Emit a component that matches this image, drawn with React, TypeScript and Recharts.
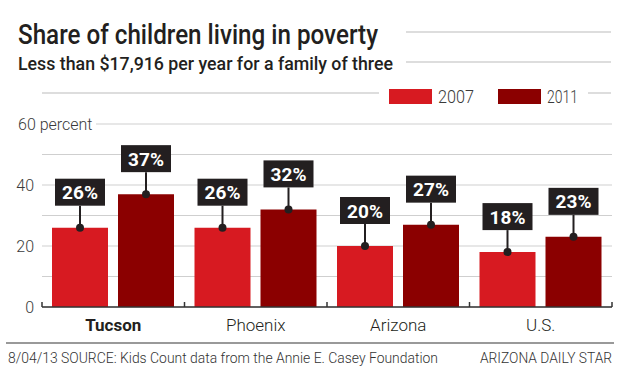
import React from 'react'
import { BarChart, Bar, XAxis, YAxis, CartesianGrid, LabelList } from 'recharts'

const categories = ['Tucson', 'Phoenix', 'Arizona', 'U.S.']
const share2007 = [26, 26, 20, 18]
const share2011 = [37, 32, 27, 23]
const yTicks = [0, 10, 20, 30, 40, 50, 60]
const yLabeled = [0, 20, 40]
const seriesNames = ['2007', '2011']
const highlighted = 'Tucson'

const data = categories.map((name, i) => ({
  name,
  y2007: share2007[i],
  y2011: share2011[i],
}))

const RED = '#d71a21'
const DARK_RED = '#8b0000'
const INK = '#231f20'
const GREY = '#3a3a3a'
const FONT = "Roboto, 'Liberation Sans', sans-serif"

const W = 620
const H = 369
const PLOT_LEFT = 42
const PLOT_RIGHT = 612
const HALF_BAND = (PLOT_RIGHT - PLOT_LEFT) / categories.length / 2

// black value tag sitting above each bar, tied to it by a stem and dot
const ValueTag = (props: any) => {
  const vb = props.viewBox || {}
  const x = props.x ?? vb.x
  const y = props.y ?? vb.y
  const width = props.width ?? vb.width
  const cx = x + width / 2
  const boxW = 50
  const boxH = 27
  const stem = 22
  const top = y - stem - boxH
  return (
    <g>
      <line x1={cx} y1={y} x2={cx} y2={y - stem} stroke={INK} strokeWidth={2} />
      <circle cx={cx} cy={y} r={4} fill={INK} />
      <rect x={cx - boxW / 2} y={top} width={boxW} height={boxH} fill={INK} />
      <text
        x={cx}
        y={top + boxH / 2 + 7}
        textAnchor="middle"
        fill="#fff"
        fontSize={19}
        fontWeight={700}
        fontFamily={FONT}
      >
        {props.value}%
      </text>
    </g>
  )
}

const CategoryTick = (props: any) => {
  const { x, y, payload, index } = props
  return (
    <g>
      <line x1={x - HALF_BAND} y1={y} x2={x - HALF_BAND} y2={y - 5} stroke="#333" strokeWidth={1.5} />
      {index === categories.length - 1 && (
        <line x1={x + HALF_BAND} y1={y} x2={x + HALF_BAND} y2={y - 5} stroke="#333" strokeWidth={1.5} />
      )}
      <text
        x={x}
        y={y + 24}
        textAnchor="middle"
        fontSize={17}
        fontWeight={payload.value === highlighted ? 700 : 300}
        fill={INK}
        fontFamily={FONT}
      >
        {payload.value}
      </text>
    </g>
  )
}

const PercentTick = (props: any) => {
  const { y, payload } = props
  const v = payload.value
  if (v === yTicks[yTicks.length - 1]) {
    return (
      <g>
        <rect x={10} y={y - 10} width={86} height={20} fill="#fff" />
        <text x={18} y={y + 6} fontSize={16} fontWeight={300} fill={GREY} fontFamily={FONT}>
          {v} percent
        </text>
      </g>
    )
  }
  if (!yLabeled.includes(v)) return <g />
  return (
    <text x={34} y={y + 6} textAnchor="end" fontSize={16} fontWeight={300} fill={GREY} fontFamily={FONT}>
      {v}
    </text>
  )
}

const Header = () => (
  <svg width={W} height={H} style={{ position: 'absolute', left: 0, top: 0, pointerEvents: 'none' }}>
    <text x={18} y={44} fontSize={27} fontWeight={500} fill={INK} fontFamily={FONT} textLength={360} lengthAdjust="spacingAndGlyphs">
      Share of children living in poverty
    </text>
    <text x={18} y={70} fontSize={19} fontWeight={500} fill={INK} fontFamily={FONT} textLength={375} lengthAdjust="spacingAndGlyphs">
      Less than $17,916 per year for a family of three
    </text>
    <line x1={406} y1={32} x2={611} y2={32} stroke="#bbb" />
    <line x1={406} y1={62} x2={611} y2={62} stroke="#bbb" />
    <line x1={42} y1={93} x2={379} y2={93} stroke="#bbb" />
    <line x1={588} y1={93} x2={611} y2={93} stroke="#bbb" />
    <rect x={389} y={89} width={43} height={15} fill={RED} />
    <text x={438} y={103} fontSize={18} fontWeight={300} fill={GREY} fontFamily={FONT} textLength={36} lengthAdjust="spacingAndGlyphs">
      {seriesNames[0]}
    </text>
    <rect x={498} y={89} width={43} height={15} fill={DARK_RED} />
    <text x={547} y={103} fontSize={18} fontWeight={300} fill={GREY} fontFamily={FONT} textLength={31} lengthAdjust="spacingAndGlyphs">
      {seriesNames[1]}
    </text>
    <line x1={6} y1={343} x2={614} y2={343} stroke="#777" strokeWidth={1.5} />
    <text x={8} y={363} fontSize={14} fontWeight={300} fill="#333" fontFamily={FONT} textLength={430} lengthAdjust="spacingAndGlyphs">
      8/04/13  SOURCE: Kids Count data from the Annie E. Casey Foundation
    </text>
    <text x={612} y={363} textAnchor="end" fontSize={14} fontWeight={300} fill="#333" fontFamily={FONT} textLength={132} lengthAdjust="spacingAndGlyphs">
      ARIZONA DAILY STAR
    </text>
  </svg>
)

export default function App() {
  return (
    <div style={{ position: 'absolute', left: 0, top: 0, width: W, height: H, background: '#fff' }}>
      <BarChart
        width={W}
        height={H}
        data={data}
        margin={{ top: 124, right: W - PLOT_RIGHT, bottom: 22, left: 8 }}
        barSize={56}
        barGap={10}
      >
        <CartesianGrid vertical={false} stroke="#cfcfcf" strokeWidth={1.2} />
        <XAxis
          dataKey="name"
          axisLine={{ stroke: '#333', strokeWidth: 1.5 }}
          tickLine={false}
          tickSize={0}
          tickMargin={0}
          tick={<CategoryTick />}
          height={40}
          interval={0}
        />
        <YAxis
          domain={[0, 60]}
          ticks={yTicks}
          axisLine={false}
          tickLine={false}
          width={34}
          tick={<PercentTick />}
          interval={0}
        />
        <Bar dataKey="y2007" name={seriesNames[0]} fill={RED} isAnimationActive={false}>
          <LabelList dataKey="y2007" content={<ValueTag />} />
        </Bar>
        <Bar dataKey="y2011" name={seriesNames[1]} fill={DARK_RED} isAnimationActive={false}>
          <LabelList dataKey="y2011" content={<ValueTag />} />
        </Bar>
      </BarChart>
      <Header />
    </div>
  )
}
